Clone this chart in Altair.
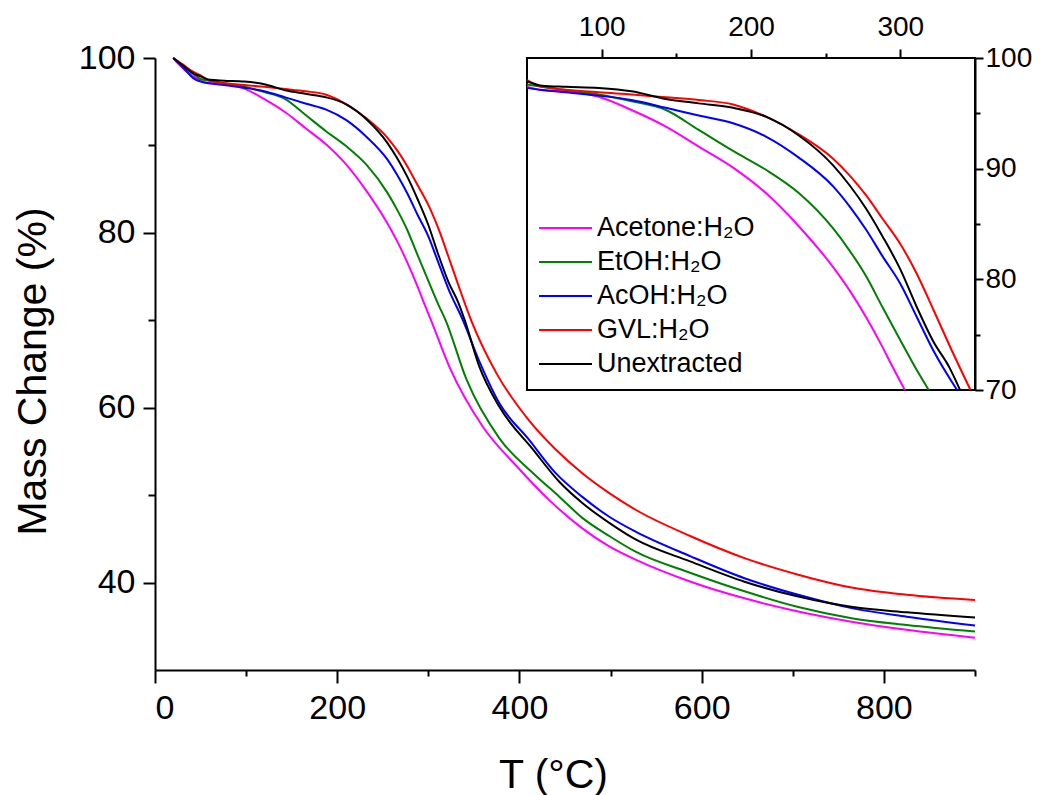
import altair as alt
import pandas as pd

FONT = "Liberation Sans"

series_names = ["Acetone:H₂O", "EtOH:H₂O", "AcOH:H₂O", "GVL:H₂O", "Unextracted"]
series_colors = ["#FF00FF", "#008000", "#0000FF", "#FF0000", "#000000"]

# Acetone:H2O
t_acetone = [20, 25, 42, 50, 60, 76, 98, 120, 143, 165, 188, 210, 232, 255, 266, 277, 288, 294, 303, 323,
             360, 397, 433, 469, 499, 528, 588, 647, 706, 766, 825, 900]
m_acetone = [100, 99.4, 97.9, 97.4, 97.1, 97.0, 96.5, 95.3, 93.8, 92.0, 90.1, 87.8, 84.8, 81.1, 79.0, 76.6,
             73.9, 72.3, 70.0, 64.7, 57.8, 53.3, 49.4, 46.2, 44.1, 42.6, 40.1, 38.2, 36.7,
             35.5, 34.6, 33.7]
# EtOH:H2O
t_etoh = [20, 30, 42, 50, 60, 76, 98, 120, 143, 165, 188, 210, 232, 255, 266, 277, 288, 300, 311, 319,
          342, 378, 415, 444, 469, 499, 528, 588, 647, 706, 766, 825, 900]
m_etoh = [100, 99.2, 98.2, 97.6, 97.4, 97.1, 96.7, 96.1, 95.3, 93.5, 91.6, 89.9, 87.8, 84.6, 82.6, 80.3,
          77.5, 74.5, 71.8, 70.0, 63.2, 56.5, 52.5, 49.8, 47.4, 45.3, 43.5, 41.1, 39.0, 37.2, 35.9,
          35.15, 34.4]
# AcOH:H2O
t_acoh = [20, 30, 42, 50, 60, 76, 98, 120, 143, 165, 188, 210, 232, 255, 266, 277, 288, 300, 311, 322,
          338, 356, 378, 410, 439, 469, 499, 528, 588, 647, 706, 766, 825, 900]
m_acoh = [100, 99.0, 97.7, 97.3, 97.1, 96.9, 96.6, 96.2, 95.5, 94.8, 94.1, 92.9, 91.0, 88.4, 86.6, 84.5,
          82.1, 79.6, 76.6, 73.6, 70.0, 65.3, 60.5, 56.4, 52.6, 49.8, 47.5, 45.8, 43.0, 40.5, 38.6,
          37.05, 36.1, 35.1]
# GVL:H2O
t_gvl = [20, 30, 42, 50, 60, 98, 120, 143, 165, 188, 210, 232, 255, 266, 277, 288, 300, 311, 322, 333,
         347, 375, 410, 439, 469, 499, 528, 588, 647, 706, 766, 825, 900]
m_gvl = [100, 99.3, 98.4, 98.0, 97.4, 96.9, 96.7, 96.45, 96.2, 95.8, 94.7, 93.1, 90.9, 89.4, 87.6, 85.5,
         83.2, 80.5, 77.3, 74.0, 70.0, 63.9, 58.6, 55.3, 52.5, 50.2, 48.3, 45.3, 42.8, 40.9, 39.4,
         38.6, 38.0]
# Unextracted
t_unext = [20, 30, 42, 50, 60, 76, 98, 120, 143, 165, 188, 210, 232, 255, 266, 277, 288, 300, 311, 322,
           333, 340, 356, 378, 415, 444, 469, 499, 528, 588, 647, 706, 766, 825, 900]
m_unext = [100, 99.2, 98.25, 97.9, 97.5, 97.4, 97.3, 97.0, 96.3, 95.9, 95.5, 94.7, 93.0, 90.3, 88.5, 86.4,
           83.9, 80.9, 77.5, 74.4, 72.0, 70.0, 64.7, 60.1, 55.2, 51.5, 49.1, 46.8, 44.9, 42.4, 40.1,
           38.4, 37.2, 36.6, 36.0]

main_x_ticks = [0, 100, 200, 300, 400, 500, 600, 700, 800, 900]
main_y_ticks = [40, 50, 60, 70, 80, 90, 100]
inset_x_ticks = [100, 150, 200, 250, 300]
inset_y_ticks = [70, 75, 80, 85, 90, 95, 100]
main_x_domain = [0, 900]
main_y_domain = [30, 100]
inset_x_domain = [50, 350]
inset_y_domain = [70, 100]

all_t = [t_acetone, t_etoh, t_acoh, t_gvl, t_unext]
all_m = [m_acetone, m_etoh, m_acoh, m_gvl, m_unext]
rows = []
for name, ts, ms in zip(series_names, all_t, all_m):
    for t, m in zip(ts, ms):
        rows.append({"series": name, "T": t, "M": m})
df = pd.DataFrame(rows)
df_inset = df[(df["T"] >= inset_x_domain[0]) & (df["M"] >= inset_y_domain[0])]
df_frame = pd.DataFrame({"x0": [inset_x_domain[0]], "x1": [inset_x_domain[1]],
                         "y0": [inset_y_domain[0]], "y1": [inset_y_domain[1]]})

W, H = 820, 612
INSET_LEFT, INSET_BOTTOM = 372, 332

color_enc = alt.Color(
    "series:N",
    scale=alt.Scale(domain=series_names, range=series_colors),
    legend=alt.Legend(
        title=None, orient="none", legendX=383, legendY=153,
        symbolType="stroke", symbolStrokeWidth=2, symbolSize=2809,
        labelFontSize=27, labelFont=FONT, labelColor="black",
        clipHeight=34, rowPadding=0, labelOffset=4, padding=0,
    ),
    sort=series_names,
)

main_x_axis = alt.Axis(
    values=main_x_ticks, labelExpr="datum.value % 200 === 0 ? datum.label : ''",
    tickSize={"condition": {"test": "datum.value % 200 === 0", "value": 13}, "value": 6},
    tickWidth=2, tickColor="black", domainWidth=2, domainColor="black", grid=False,
    labelFontSize=34, labelFont=FONT, labelColor="black", labelPadding=8, format="d",
    title="T (°C)", titleFontSize=41, titleFont=FONT, titleFontWeight="normal", titleColor="black",
    titleX=398, titleY=117, titleBaseline="alphabetic", titleAlign="center", titleAnchor="start",
)
main_y_axis = alt.Axis(
    values=main_y_ticks, labelExpr="datum.value % 20 === 0 ? datum.label : ''",
    tickSize={"condition": {"test": "datum.value % 20 === 0", "value": 12}, "value": 7},
    tickWidth=2, tickColor="black", domainWidth=2, domainColor="black", grid=False,
    labelFontSize=34, labelFont=FONT, labelColor="black", labelPadding=8, format="d",
    title="Mass Change (%)", titleFontSize=41, titleFont=FONT, titleFontWeight="normal",
    titleColor="black", titleX=-110, titleY=313, titleAngle=-90, titleBaseline="alphabetic",
    titleAlign="center", titleAnchor="start",
)

main = alt.Chart(df).mark_line(strokeWidth=2, interpolate="monotone").encode(
    x=alt.X("T:Q", scale=alt.Scale(domain=main_x_domain, nice=False, zero=False), axis=main_x_axis),
    y=alt.Y("M:Q", scale=alt.Scale(domain=main_y_domain, nice=False, zero=False), axis=main_y_axis),
    color=color_enc,
)

inset_x_scale = alt.Scale(domain=inset_x_domain, range=[INSET_LEFT, W], nice=False, zero=False)
inset_y_scale = alt.Scale(domain=inset_y_domain, range=[INSET_BOTTOM, 0], nice=False, zero=False)
inset_x_axis = alt.Axis(
    orient="top", values=inset_x_ticks, labelExpr="datum.value % 100 === 0 ? datum.label : ''",
    tickSize={"condition": {"test": "datum.value % 100 === 0", "value": 9}, "value": 5},
    tickWidth=2, tickColor="black", domainWidth=2, domainColor="black", grid=False,
    labelFontSize=28, labelFont=FONT, labelColor="black", labelPadding=8, format="d", title=None,
)
inset_y_axis = alt.Axis(
    orient="right", values=inset_y_ticks, labelExpr="datum.value % 10 === 0 ? datum.label : ''",
    tickSize={"condition": {"test": "datum.value % 10 === 0", "value": 8}, "value": 5},
    tickWidth=2, tickColor="black", domainWidth=2, domainColor="black", grid=False,
    labelFontSize=28, labelFont=FONT, labelColor="black", labelPadding=2, format="d", title=None,
)

inset_bg = alt.Chart(df_frame).mark_rect(fill="white", stroke="black", strokeWidth=2).encode(
    x=alt.X("x0:Q", scale=inset_x_scale, axis=inset_x_axis),
    x2="x1:Q",
    y=alt.Y("y0:Q", scale=inset_y_scale, axis=inset_y_axis),
    y2="y1:Q",
)
inset_lines = alt.Chart(df_inset).mark_line(strokeWidth=2, interpolate="monotone").encode(
    x=alt.X("T:Q", scale=inset_x_scale, axis=inset_x_axis),
    y=alt.Y("M:Q", scale=inset_y_scale, axis=inset_y_axis),
    color=color_enc,
)
inset = alt.layer(inset_bg, inset_lines)

chart = alt.layer(main, inset).resolve_scale(x="independent", y="independent").properties(
    width=W, height=H,
    padding={"left": 155, "top": 58, "right": 69, "bottom": 125},
    autosize=alt.AutoSizeParams(type="none"),
    background="white",
).configure_view(strokeWidth=0)

chart.save("out.html", embed_options={"renderer": "svg", "actions": False})
